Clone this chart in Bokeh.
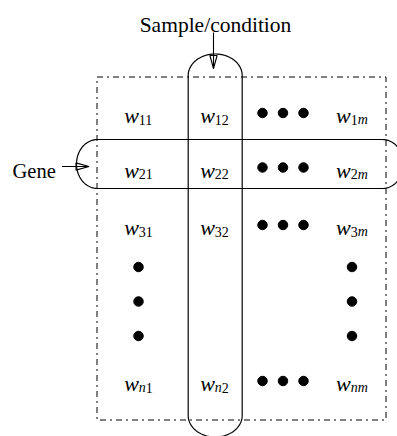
import numpy as np
from bokeh.plotting import figure
from bokeh.models import Range1d
from bokeh.core.properties import value
from bokeh.embed import file_html
from bokeh.resources import INLINE

# ---------------- data ----------------
row_labels = ["1", "2", "3", "n"]
col_labels = ["1", "2", "m"]
base_symbol = "w"
ellipsis_count = 3
sample_label = "Sample/condition"
gene_label = "Gene"
highlight_row = 1   # "Gene" -> row 2
highlight_col = 1   # "Sample/condition" -> column 2

# ---------------- layout (pixel space) ----------------
W, H = 397, 436
FONT = value("Liberation Serif")
MAIN_PX = 22.0
SUB_PX = 14.0
SUB_DROP = 4.0
col_centers = [138.0, 214.0, 351.5]
row_baselines = [115.0, 169.5, 227.0, 383.0]
h_dot_center, h_dot_step = 282.5, 20.5
v_dot_center, v_dot_step = 301.0, 34.5
DOT_SIZE = 9.5

# approximate advance widths (em) for Liberation Serif
W_ITALIC = {"w": 0.667, "m": 0.722, "n": 0.5}
DIGIT_W = 0.5

def sub_runs(sub):
    runs = []
    for ch in sub:
        kind = "digit" if ch.isdigit() else "letter"
        if runs and runs[-1][0] == kind:
            runs[-1][1] += ch
        else:
            runs.append([kind, ch])
    return runs

def run_width(kind, s):
    if kind == "digit":
        return DIGIT_W * SUB_PX * len(s)
    return sum(W_ITALIC.get(c, 0.5) for c in s) * SUB_PX

p = figure(width=W, height=H, x_range=Range1d(0, W), y_range=Range1d(H, 0),
           output_backend="svg", toolbar_location=None, min_border=0,
           x_axis_type=None, y_axis_type=None)
p.grid.visible = False
p.outline_line_color = None
p.background_fill_color = "white"
p.border_fill_color = "white"

# dash-dot frame of the matrix
fx0, fx1, fy0, fy1 = 96.5, 385.5, 76.5, 419.5
p.line([fx0, fx1, fx1, fx0, fx0], [fy0, fy0, fy1, fy1, fy0],
       line_color="black", line_width=1, line_dash="6 4 2 4")

# matrix entries
main_x, main_y, main_t = [], [], []
dig_x, dig_y, dig_t = [], [], []
let_x, let_y, let_t = [], [], []
for ri, r in enumerate(row_labels):
    for ci, c in enumerate(col_labels):
        sub = r + c
        runs = sub_runs(sub)
        w_main = W_ITALIC[base_symbol] * MAIN_PX
        total = w_main + sum(run_width(k, s) for k, s in runs)
        x0 = col_centers[ci] - total / 2
        yb = row_baselines[ri]
        main_x.append(x0); main_y.append(yb); main_t.append(base_symbol)
        xs = x0 + w_main
        for k, s in runs:
            if k == "digit":
                dig_x.append(xs); dig_y.append(yb + SUB_DROP); dig_t.append(s)
            else:
                let_x.append(xs); let_y.append(yb + SUB_DROP); let_t.append(s)
            xs += run_width(k, s)

p.text(main_x, main_y, text=main_t, text_font=FONT, text_font_size=f"{MAIN_PX}px",
       text_font_style="italic", text_align="left", text_baseline="alphabetic", text_color="black")
p.text(dig_x, dig_y, text=dig_t, text_font=FONT, text_font_size=f"{SUB_PX}px",
       text_font_style="normal", text_align="left", text_baseline="alphabetic", text_color="black")
p.text(let_x, let_y, text=let_t, text_font=FONT, text_font_size=f"{SUB_PX}px",
       text_font_style="italic", text_align="left", text_baseline="alphabetic", text_color="black")

# ellipsis dots
offs = np.arange(ellipsis_count) - (ellipsis_count - 1) / 2
hx, hy = [], []
for ri in range(len(row_labels)):
    for o in offs:
        hx.append(h_dot_center + o * h_dot_step)
        hy.append(row_baselines[ri] - 2.5)
vx, vy = [], []
for ci in (0, len(col_labels) - 1):
    for o in offs:
        vx.append(col_centers[ci])
        vy.append(v_dot_center + o * v_dot_step)
p.scatter(hx + vx, hy + vy, size=DOT_SIZE, color="black")

# stadium around highlighted column (sample/condition)
t = np.linspace(0, np.pi, 60)
cx, hw = (col_centers[highlight_col] + 0.7), 27.0
y_top, y_bot, rv = 75.0, 415.0, 21.5
sx = np.concatenate([cx - hw * np.cos(t), [cx + hw], cx + hw * np.cos(t), [cx - hw]])
sy = np.concatenate([y_top - rv * np.sin(t), [y_bot], y_bot + rv * np.sin(t), [y_top]])
p.line(sx, sy, line_color="black", line_width=1.2)

# stadium around highlighted row (gene)
cy, hh = row_baselines[highlight_row] - 6.0, 24.5
x_left, x_right, rh = 97.0, 382.0, 21.0
gx = np.concatenate([x_left - rh * np.sin(t), [x_right], x_right + rh * np.sin(t), [x_left]])
gy = np.concatenate([cy - hh * np.cos(t), [cy + hh], cy + hh * np.cos(t), [cy - hh]])
p.line(gx, gy, line_color="black", line_width=1.2)

# labels
p.text([215.0], [24.0], text=[sample_label], text_font=FONT, text_font_size="21.5px",
       text_align="center", text_baseline="alphabetic", text_color="black")
p.text([12.0], [170.0], text=[gene_label], text_font=FONT, text_font_size="20.5px",
       text_align="left", text_baseline="alphabetic", text_color="black")

# arrows with open narrow heads
def arrow(x0, y0, x1, y1, L=13.0, hw_=3.6):
    d = np.array([x1 - x0, y1 - y0], float)
    d /= np.hypot(*d)
    n = np.array([-d[1], d[0]])
    b = np.array([x1, y1]) - d * L
    p.line([x0, x1], [y0, y1], line_color="black", line_width=1.1)
    p.patch([b[0] + n[0] * hw_, x1, b[0] - n[0] * hw_],
            [b[1] + n[1] * hw_, y1, b[1] - n[1] * hw_],
            fill_color="white", fill_alpha=0.0, line_color="black", line_width=1.1)

arrow(213.0, 32.0, 213.0, 68.0)
arrow(61.5, 166.0, 88.5, 166.0)

open("out.html", "w").write(file_html(p, INLINE))
